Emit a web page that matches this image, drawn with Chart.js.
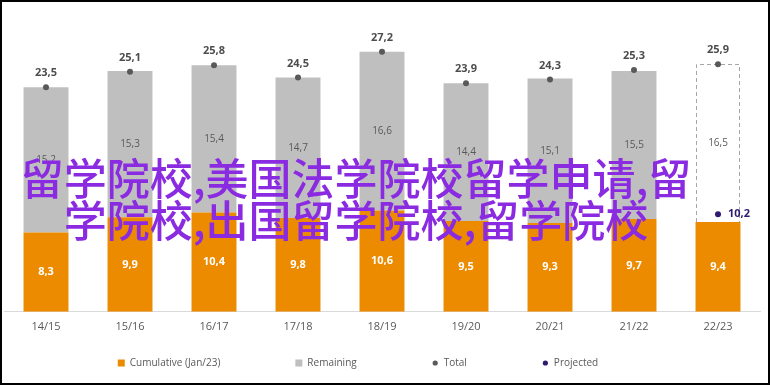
<!DOCTYPE html>
<html lang="en">
<head>
  <meta charset="UTF-8">
  <title>Enrollment</title>
  <script src="https://cdn.jsdelivr.net/npm/chart.js@4.4.0/dist/chart.umd.min.js"></script>
  <style>
    html, body { margin: 0; padding: 0; background: #fff; }
    #wrap { position: relative; width: 770px; height: 385px; }
    #frame { position: absolute; left: 0; top: 0; width: 770px; height: 385px; box-sizing: border-box; border: 2px solid #000; pointer-events: none; }
    #overlay {
      position: absolute; left: 0; top: 155px; width: 712px;
      text-align: center; color: #8a2be2;
      font-family: "Noto Sans CJK SC", sans-serif; font-size: 43px; font-weight: 500; line-height: 42px;
      pointer-events: none;
    }
  </style>
</head>
<body>
  <div id="wrap">
    <canvas id="chart" width="770" height="385"></canvas>
    <div id="overlay">留学院校,美国法学院校留学申请,留<br>学院校,出国留学院校,留学院校</div>
    <div id="frame"></div>
  </div>
  <script>
    const seasons = ['14/15', '15/16', '16/17', '17/18', '18/19', '19/20', '20/21', '21/22', '22/23'];
    const cumulative = [8.3, 9.9, 10.4, 9.8, 10.6, 9.5, 9.3, 9.7, 9.4];
    const remaining = [15.2, 15.3, 15.4, 14.7, 16.6, 14.4, 15.1, 15.5, 16.5];
    const totals = [23.5, 25.1, 25.8, 24.5, 27.2, 23.9, 24.3, 25.3, 25.9];
    const projected = [null, null, null, null, null, null, null, null, 10.2];

    const ORANGE = '#ec8b00';
    const GREY = '#bfbfbf';
    const DARK = '#595959';
    const NAVY = '#2e1a6e';
    const FONT = '"Open Sans", sans-serif';

    const fmt = v => v.toFixed(1).replace('.', ',');
    const lastIdx = seasons.length - 1;

    // data labels + dashed outline for the projected season
    const labelPlugin = {
      id: 'labels',
      afterDatasetDraw(chart, args) {
        if (args.index !== 1) return;
        const ctx = chart.ctx;
        const el = args.meta.data[lastIdx];
        ctx.save();
        ctx.strokeStyle = '#a6a6a6';
        ctx.lineWidth = 1;
        ctx.setLineDash([4, 3]);
        const l = Math.round(el.x - el.width / 2) + 0.5, r = Math.round(el.x + el.width / 2) - 0.5;
        const t = Math.round(el.y) + 0.5, b = Math.round(el.base);
        ctx.beginPath();
        ctx.moveTo(l, b); ctx.lineTo(l, t); ctx.lineTo(r, t); ctx.lineTo(r, b);
        ctx.stroke();
        ctx.restore();
      },
      afterDatasetsDraw(chart) {
        const ctx = chart.ctx;
        ctx.save();
        ctx.textAlign = 'center';
        ctx.textBaseline = 'middle';
        chart.getDatasetMeta(0).data.forEach((el, k) => {
          ctx.fillStyle = '#fff';
          ctx.font = 'bold 11px ' + FONT;
          ctx.fillText(fmt(cumulative[k]), el.x, (el.y + el.base) / 2);
        });
        chart.getDatasetMeta(1).data.forEach((el, k) => {
          ctx.fillStyle = DARK;
          ctx.font = '10px ' + FONT;
          ctx.fillText(fmt(remaining[k]), el.x, (el.y + el.base) / 2);
        });
        chart.getDatasetMeta(2).data.forEach((el, k) => {
          ctx.fillStyle = '#4d4d4d';
          ctx.font = 'bold 11px ' + FONT;
          ctx.fillText(fmt(totals[k]), el.x, el.y - 14);
        });
        const p = chart.getDatasetMeta(3).data[lastIdx];
        ctx.fillStyle = NAVY;
        ctx.font = 'bold 11px ' + FONT;
        ctx.textAlign = 'left';
        ctx.fillText(fmt(projected[lastIdx]), p.x + 10, p.y);
        ctx.restore();
      }
    };

    // wide-spaced legend at the bottom
    const legendPlugin = {
      id: 'wideLegend',
      afterDraw(chart) {
        const ctx = chart.ctx;
        const gap = 75, y = 363;
        ctx.save();
        ctx.font = '10px ' + FONT;
        ctx.textBaseline = 'middle';
        const items = chart.data.datasets.map(ds => ({
          text: ds.label,
          color: ds.type === 'line' ? ds.pointBackgroundColor : (Array.isArray(ds.backgroundColor) ? ds.backgroundColor[0] : ds.backgroundColor),
          dot: ds.type === 'line'
        }));
        items.forEach(it => { it.w = 7 + 5 + ctx.measureText(it.text).width; });
        const total = items.reduce((s, it) => s + it.w, 0) + gap * (items.length - 1);
        let x = 358 - total / 2;
        items.forEach(it => {
          ctx.fillStyle = it.color;
          if (it.dot) {
            ctx.beginPath();
            ctx.arc(x + 3.5, y, 2.6, 0, Math.PI * 2);
            ctx.fill();
          } else {
            ctx.fillRect(x, y - 3.5, 7, 7);
          }
          ctx.fillStyle = DARK;
          ctx.fillText(it.text, x + 12, y);
          x += it.w + gap;
        });
        ctx.restore();
      }
    };

    new Chart(document.getElementById('chart'), {
      type: 'bar',
      data: {
        labels: seasons,
        datasets: [
          {
            label: 'Cumulative (Jan/23)', data: cumulative, backgroundColor: ORANGE,
            stack: 'bars', order: 1, barPercentage: 0.535, categoryPercentage: 1
          },
          {
            label: 'Remaining', data: remaining,
            backgroundColor: seasons.map((s, k) => k === lastIdx ? '#fff' : GREY),
            stack: 'bars', order: 1, barPercentage: 0.535, categoryPercentage: 1
          },
          {
            type: 'line', label: 'Total', data: totals, stack: 'total', order: 0,
            showLine: false, pointRadius: 3, pointBackgroundColor: DARK, pointBorderWidth: 0,
            backgroundColor: DARK, borderColor: DARK
          },
          {
            type: 'line', label: 'Projected', data: projected, stack: 'proj', order: 0,
            showLine: false, pointRadius: 3, pointBackgroundColor: NAVY, pointBorderWidth: 0,
            backgroundColor: NAVY, borderColor: NAVY
          }
        ]
      },
      options: {
        responsive: false,
        animation: false,
        events: [],
        layout: { padding: { left: 1, right: 10, top: 25, bottom: 52 } },
        scales: {
          x: {
            stacked: true,
            grid: { display: false },
            border: { display: true, color: '#d9d9d9', width: 1 },
            ticks: { color: DARK, font: { family: FONT, size: 11 }, padding: 0 }
          },
          y: { stacked: true, display: false, min: 0, max: 30 }
        },
        plugins: {
          tooltip: { enabled: false },
          legend: { display: false }
        }
      },
      plugins: [labelPlugin, legendPlugin]
    });
  </script>
</body>
</html>
